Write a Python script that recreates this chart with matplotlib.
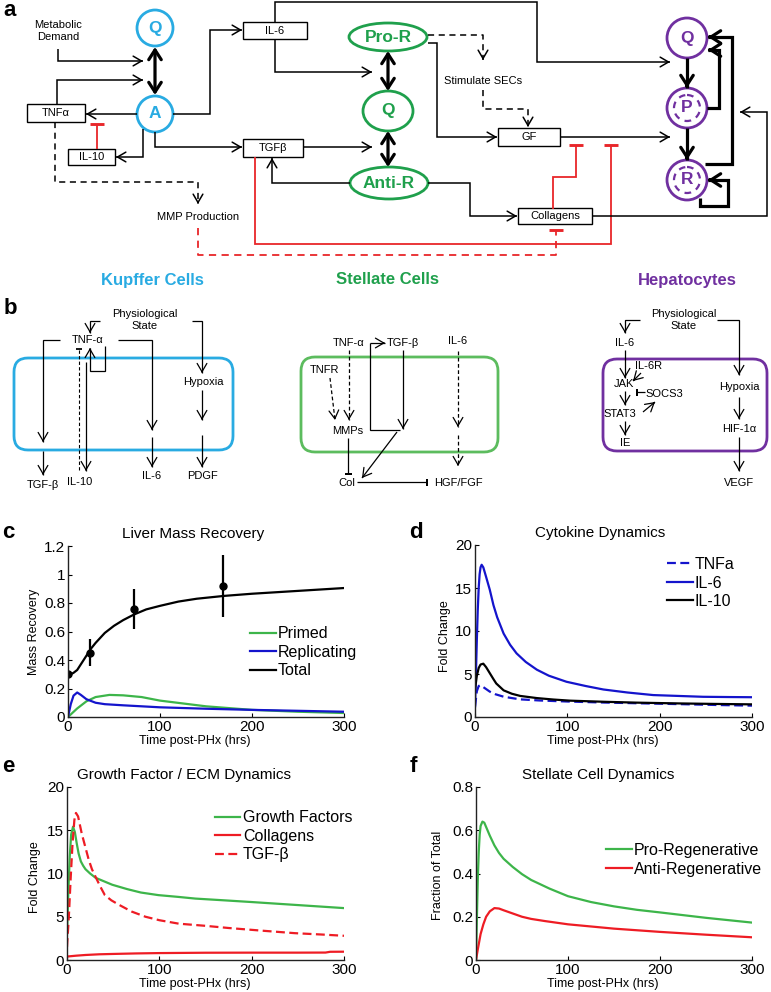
import numpy as np
import matplotlib
matplotlib.use("Agg")
import matplotlib.pyplot as plt
from matplotlib.patches import Circle, Ellipse, Rectangle, FancyBboxPatch

plt.rcParams['font.family'] = ['Liberation Sans', 'DejaVu Sans']

# ---- c: liver mass recovery ----
t_total = [0, 3, 6, 10, 15, 20, 25, 30, 40, 50, 60, 72, 85, 100, 120, 140, 170, 200, 250, 300]
mass_total = [0.30, 0.30, 0.31, 0.33, 0.38, 0.43, 0.48, 0.52, 0.59, 0.64, 0.68, 0.72, 0.755, 0.78,
              0.81, 0.83, 0.85, 0.865, 0.885, 0.905]
t_primed = [0, 5, 10, 20, 30, 45, 60, 80, 100, 125, 150, 200, 250, 300]
mass_primed = [0, 0.03, 0.06, 0.11, 0.14, 0.155, 0.152, 0.14, 0.115, 0.095, 0.075, 0.05, 0.037, 0.028]
t_repl = [0, 3, 6, 10, 14, 20, 30, 40, 60, 100, 150, 200, 300]
mass_repl = [0, 0.09, 0.15, 0.172, 0.155, 0.125, 0.1, 0.09, 0.082, 0.068, 0.058, 0.05, 0.037]
t_exp = [0, 24, 72, 168]
mass_exp = [0.30, 0.45, 0.755, 0.92]
mass_err = [0, 0.095, 0.14, 0.22]

# ---- d: cytokines ----
t_tnf = [0, 2, 4, 5.5, 8, 12, 16, 22, 31, 40, 49, 70, 100, 140, 175, 220, 260, 300]
tnf = [1.2, 3.0, 3.6, 3.7, 3.55, 3.25, 2.95, 2.65, 2.36, 2.2, 2.05, 1.92, 1.8, 1.68, 1.6, 1.5, 1.4, 1.32]
t_il6 = [0, 1, 2, 3, 4, 5, 6, 7.2, 9, 12, 16, 20, 24, 31, 38, 45, 55, 67, 80, 99, 120,
         139, 165, 193, 220, 247, 275, 300]
il6 = [1.2, 5, 9, 12.5, 15, 16.6, 17.4, 17.7, 17.4, 16.3, 14.8, 13.0, 11.6, 9.7, 8.4, 7.4, 6.4,
       5.5, 4.8, 4.1, 3.6, 3.2, 2.85, 2.55, 2.45, 2.35, 2.32, 2.3]
t_il10 = [0, 2, 4, 6, 9, 12, 16, 20, 23, 31, 40, 49, 67, 85, 103, 140, 175, 220, 260, 300]
il10 = [3.2, 4.8, 5.7, 6.1, 6.2, 5.8, 5.1, 4.4, 3.9, 3.1, 2.7, 2.45, 2.2, 2.03, 1.9, 1.77, 1.67,
        1.58, 1.52, 1.47]

# ---- e: growth factor / ECM ----
t_gf = [0, 1.5, 3, 4.5, 6.5, 8.5, 10.5, 12.6, 15, 17.5, 20, 25, 31, 40, 49, 65, 80, 99, 120,
        139, 170, 200, 250, 300]
gf = [3, 8, 12, 14.5, 15.4, 14.8, 13.5, 12.3, 11.4, 10.9, 10.5, 10.0, 9.5, 9.1, 8.7, 8.2, 7.8,
      7.5, 7.3, 7.1, 6.9, 6.7, 6.35, 6.0]
t_col = [0, 5, 10, 20, 35, 50, 75, 100, 150, 200, 250, 280, 285, 300]
col = [0.4, 0.45, 0.5, 0.58, 0.66, 0.7, 0.76, 0.8, 0.84, 0.85, 0.85, 0.86, 0.95, 0.96]
t_tgf = [0, 2, 4, 6, 8, 9.7, 12, 16, 20, 23.5, 27, 31, 36, 41, 48, 56, 70, 85, 100, 121, 150,
         175, 210, 247, 275, 300]
tgf = [1.5, 5, 9.5, 13.5, 16.2, 17.0, 16.6, 14.6, 13.0, 11.6, 10.5, 9.6, 8.5, 7.5, 6.9, 6.4,
       5.6, 5.0, 4.6, 4.2, 3.95, 3.7, 3.4, 3.1, 2.95, 2.8]

# ---- f: stellate cells ----
t_pro = [0, 1, 2, 3, 4, 5, 7, 9, 12, 15, 20, 25, 30, 40, 50, 60, 80, 100, 125, 150, 175, 200,
         250, 300]
pro = [0, 0.2, 0.38, 0.5, 0.58, 0.62, 0.64, 0.635, 0.605, 0.575, 0.53, 0.495, 0.468, 0.43,
       0.397, 0.37, 0.33, 0.295, 0.268, 0.248, 0.232, 0.22, 0.195, 0.173]
t_anti = [0, 2, 5, 8, 11, 15, 20, 25, 30, 40, 50, 60, 75, 100, 125, 150, 200, 250, 300]
anti = [0, 0.05, 0.12, 0.165, 0.2, 0.225, 0.24, 0.238, 0.23, 0.215, 0.2, 0.19, 0.18, 0.165,
        0.155, 0.145, 0.13, 0.117, 0.105]

KUP = '#29ABE2'
STE = '#1FA04C'
STE_B = '#5CBC5E'
HEP = '#7030A0'
RED = '#E8262A'
GREEN = '#3DB54A'
BLUE = '#1414CC'
LRED = '#EE1C24'

fig = plt.figure(figsize=(7.71, 9.92), dpi=100)
ov = fig.add_axes([0, 0, 1, 1])
ov.set_xlim(0, 771)
ov.set_ylim(992, 0)
ov.axis('off')


def line(pts, color='k', lw=1.1, ls='-'):
    xs, ys = zip(*pts)
    ov.plot(xs, ys, color=color, lw=lw, ls=ls, solid_capstyle='butt',
            dash_capstyle='butt', solid_joinstyle='miter')


def arrow(pts, color='k', lw=1.1, ls='-', hl=0.6, hw=0.35):
    line(pts, color, lw, ls)
    (x0, y0), (x1, y1) = pts[-2], pts[-1]
    d = np.hypot(x1 - x0, y1 - y0)
    ux, uy = (x1 - x0) / d, (y1 - y0) / d
    ov.annotate('', xy=(x1, y1), xytext=(x1 - ux * 2, y1 - uy * 2),
                arrowprops=dict(arrowstyle=f'->,head_length={hl},head_width={hw}',
                                color=color, lw=lw, shrinkA=0, shrinkB=0))


def tbar(pts, color='k', lw=1.1, ls='-', half=7):
    line(pts, color, lw, ls)
    (x0, y0), (x1, y1) = pts[-2], pts[-1]
    d = np.hypot(x1 - x0, y1 - y0)
    px, py = -(y1 - y0) / d, (x1 - x0) / d
    ov.plot([x1 - px * half, x1 + px * half], [y1 - py * half, y1 + py * half],
            color=color, lw=lw * 1.6, solid_capstyle='butt')


def dbl(p0, p1):
    ov.annotate('', xy=p1, xytext=p0,
                arrowprops=dict(arrowstyle='<->,head_length=0.7,head_width=0.45',
                                color='k', lw=2.3, shrinkA=0, shrinkB=0))


def box(x0, y0, x1, y1, label, fs=8):
    ov.add_patch(Rectangle((x0, y0), x1 - x0, y1 - y0, fill=False, ec='k', lw=1.0))
    ov.text((x0 + x1) / 2, (y0 + y1) / 2, label, ha='center', va='center', fontsize=fs)


def txt(x, y, s, fs=8, **kw):
    ov.text(x, y, s, ha='center', va='center', fontsize=fs, **kw)


# panel letters
for lx, ly, s in [(10, 11, 'a'), (10, 309, 'b'), (8, 532, 'c'), (416, 532, 'd'),
                  (8, 767, 'e'), (413, 767, 'f')]:
    txt(lx, ly, s, fs=16, fontweight='bold')

# ================= panel a =================
# Kupffer cells
ov.add_patch(Circle((155, 28), 18, fill=False, ec=KUP, lw=2))
ov.add_patch(Circle((155, 114), 18, fill=False, ec=KUP, lw=2))
txt(155, 28, 'Q', fs=12.5, color=KUP, fontweight='bold')
txt(155, 114, 'A', fs=12.5, color=KUP, fontweight='bold')
dbl((155, 47), (155, 95))
ov.text(58, 31, 'Metabolic\nDemand', ha='center', va='center', fontsize=8, linespacing=1.25)
arrow([(58, 49), (58, 61), (143, 61)])
arrow([(57, 104), (57, 80), (143, 80)])
box(27, 104, 85, 122, 'TNFα')
arrow([(137, 114), (86, 114)])
box(68, 149, 115, 165, 'IL-10')
arrow([(143, 129), (143, 157), (116, 157)])
tbar([(97, 149), (97, 124)], color=RED, lw=1.3)
arrow([(55, 122), (55, 182), (198, 182), (198, 204)], ls=(0, (4, 3)))
txt(198, 217, 'MMP Production')
tbar([(198, 228), (198, 255), (556, 255), (556, 230)], color=RED, lw=1.3, ls=(0, (4, 3)))
box(243, 22, 307, 39, 'IL-6')
arrow([(173, 114), (210, 114), (210, 30), (242, 30)])
arrow([(275, 22), (275, 2), (537, 2), (537, 62), (670, 62)])
arrow([(275, 39), (275, 72), (372, 72)])
box(243, 139, 303, 157, 'TGFβ')
arrow([(155, 132), (155, 147), (242, 147)])
arrow([(303, 147), (372, 147)])
arrow([(350, 183), (272, 183), (272, 158)])
tbar([(255, 157), (255, 244), (611, 244), (611, 145)], color=RED, lw=1.3)
tbar([(553, 209), (553, 177), (576, 177), (576, 145)], color=RED, lw=1.3)

# Stellate cells
for (cx, cy, w, h, s) in [(388, 37, 78, 28, 'Pro-R'), (388, 111, 50, 40, 'Q'),
                          (389, 183, 78, 32, 'Anti-R')]:
    ov.add_patch(Ellipse((cx, cy), w, h, fill=False, ec=STE, lw=2))
    txt(cx, cy, s, fs=12.5, color=STE, fontweight='bold')
dbl((388, 51), (388, 91))
dbl((388, 131), (388, 167))
arrow([(428, 35), (483, 35), (483, 60)], ls=(0, (4, 3)))
txt(483, 81, 'Stimulate SECs')
arrow([(483, 90), (483, 109), (528, 109), (528, 127)], ls=(0, (4, 3)))
arrow([(428, 43), (437, 43), (437, 137), (497, 137)])
box(498, 128, 560, 146, 'GF')
arrow([(560, 137), (670, 137)])
arrow([(428, 183), (470, 183), (470, 216), (517, 216)])
box(518, 208, 592, 224, 'Collagens')
arrow([(592, 216), (767, 216), (767, 112), (740, 112)])

# Hepatocytes
for cy, s in [(38, 'Q'), (108, 'P'), (180, 'R')]:
    ov.add_patch(Circle((687, cy), 20, fill=False, ec=HEP, lw=2))
    if s != 'Q':
        ov.add_patch(Circle((687, cy), 13, fill=False, ec=HEP, lw=1.6, ls=(0, (3, 2.5))))
    txt(687, cy, s, fs=12.5, color=HEP, fontweight='bold')
arrow([(687, 58), (687, 88)], lw=2.3, hl=0.7, hw=0.45)
arrow([(687, 128), (687, 160)], lw=2.3, hl=0.7, hw=0.45)
arrow([(707, 108), (719, 108), (719, 50), (708, 50)], lw=2.3, hl=0.7, hw=0.45)
arrow([(705, 164), (732, 164), (732, 37), (708, 37)], lw=2.3, hl=0.7, hw=0.45)
arrow([(700, 198), (700, 206), (728, 206), (728, 180), (708, 180)], lw=2.3, hl=0.7, hw=0.45)

txt(152, 280, 'Kupffer Cells', fs=12, color=KUP, fontweight='bold')
txt(387, 280, 'Stellate Cells', fs=12, color=STE, fontweight='bold')
txt(687, 280, 'Hepatocytes', fs=12, color=HEP, fontweight='bold')

# ================= panel b =================
# Kupffer
ov.add_patch(FancyBboxPatch((14, 358), 219, 92, boxstyle='round,pad=0,rounding_size=14',
                            fill=False, ec=KUP, lw=2))
ov.text(145, 320, 'Physiological\nState', ha='center', va='center', fontsize=8, linespacing=1.2)
txt(88, 340, 'TNF-α')
arrow([(100, 321), (90, 321), (90, 333)], lw=0.9)
arrow([(192, 321), (202, 321), (202, 373)], lw=0.9)
txt(203, 382, 'Hypoxia')
arrow([(202, 390), (202, 420)], lw=0.9)
arrow([(202, 435), (202, 467)], lw=0.9)
txt(203, 476, 'PDGF')
arrow([(60, 340), (43, 340), (43, 442)], lw=0.9)
arrow([(43, 451), (43, 475)], lw=0.9)
txt(43, 485, 'TGF-β')
arrow([(118, 340), (152, 340), (152, 430)], lw=0.9)
arrow([(152, 437), (152, 467)], lw=0.9)
txt(152, 476, 'IL-6')
arrow([(105, 346), (105, 371), (90, 371), (90, 348)], lw=0.9)
arrow([(86, 362), (86, 471)], lw=0.9)
tbar([(79, 470), (79, 349)], lw=0.8, ls=(0, (3, 2)), half=3)
txt(80, 482, 'IL-10')

# Stellate
ov.add_patch(FancyBboxPatch((301, 357), 197, 95, boxstyle='round,pad=0,rounding_size=14',
                            fill=False, ec=STE_B, lw=2))
txt(349, 343, 'TNF-α')
txt(403, 343, 'TGF-β')
txt(458, 341, 'IL-6')
line([(400, 430), (370, 430), (370, 343)], lw=0.9)
arrow([(370, 343), (385, 343)], lw=0.9)
arrow([(403, 350), (403, 429)], lw=0.9)
arrow([(397, 432), (362, 478)], lw=0.9)
arrow([(349, 350), (349, 420)], lw=0.9, ls=(0, (3, 2)))
txt(325, 370, 'TNFR')
arrow([(330, 378), (335, 420)], lw=0.9, ls=(0, (3, 2)))
txt(348, 431, 'MMPs')
tbar([(348, 438), (348, 474)], lw=0.9, half=3.5)
txt(347, 483, 'Col')
tbar([(357, 482), (427, 482)], lw=0.9, half=3.5)
txt(458, 483, 'HGF/FGF')
arrow([(458, 351), (458, 427)], lw=0.9, ls=(0, (3, 2)))
arrow([(458, 435), (458, 466)], lw=0.9, ls=(0, (3, 2)))

# Hepatocytes
ov.add_patch(FancyBboxPatch((603, 359), 164, 92, boxstyle='round,pad=0,rounding_size=14',
                            fill=False, ec=HEP, lw=2))
ov.text(684, 320, 'Physiological\nState', ha='center', va='center', fontsize=8, linespacing=1.2)
arrow([(640, 320), (625, 320), (625, 333)], lw=0.9)
txt(625, 343, 'IL-6')
arrow([(625, 350), (625, 378)], lw=0.9)
txt(649, 366, 'IL-6R')
arrow([(641, 373), (633, 381)], lw=0.9)
txt(624, 384, 'JAK')
tbar([(645, 392), (637, 392)], lw=0.9, half=3.5)
txt(664, 394, 'SOCS3')
arrow([(625, 391), (625, 405)], lw=0.9)
txt(620, 414, 'STAT3')
arrow([(643, 412), (655, 402)], lw=0.9)
arrow([(625, 421), (625, 435)], lw=0.9)
txt(625, 443, 'IE')
arrow([(717, 320), (739, 320), (739, 375)], lw=0.9)
txt(739, 387, 'Hypoxia')
arrow([(739, 397), (739, 419)], lw=0.9)
txt(739, 429, 'HIF-1α')
arrow([(739, 437), (739, 471)], lw=0.9)
txt(739, 483, 'VEGF')

# ================= plots =================
W, H = 771.0, 992.0


def make_ax(left, right, top, bottom):
    return fig.add_axes([left / W, (H - bottom) / H, (right - left) / W, (bottom - top) / H])


def style(ax, ylim, yticks, ylabels, title, tx, ylab, ylx, yly):
    ax.set_xlim(0, 300)
    ax.set_ylim(*ylim)
    for s in ['top', 'right']:
        ax.spines[s].set_visible(False)
    for s in ['left', 'bottom']:
        ax.spines[s].set_linewidth(1.0)
        ax.spines[s].set_color('#222222')
    ax.set_xticks([0, 100, 200, 300])
    ax.set_yticks(yticks)
    ax.set_yticklabels(ylabels)
    ax.tick_params(direction='in', length=3, labelsize=11, pad=2)
    ax.set_title(title, fontsize=11, x=tx, pad=6)
    ax.set_xlabel('Time post-PHx (hrs)', fontsize=9)
    ax.xaxis.set_label_coords(0.46, -0.105)
    ax.set_ylabel(ylab, fontsize=9)
    ax.yaxis.set_label_coords(ylx, yly)
    ax.patch.set_alpha(0)


def leg(ax, x, y):
    ax.legend(loc='upper left', bbox_to_anchor=(x, y), frameon=False, fontsize=11.5,
              handlelength=1.6, handletextpad=0.15, labelspacing=0.22, borderpad=0,
              borderaxespad=0)


# c
axc = make_ax(68, 344, 546, 717)
axc.plot(t_primed, mass_primed, color=GREEN, lw=1.6, label='Primed')
axc.plot(t_repl, mass_repl, color=BLUE, lw=1.6, label='Replicating')
axc.plot(t_total, mass_total, color='k', lw=1.6, label='Total')
axc.errorbar(t_exp, mass_exp, yerr=mass_err, fmt='o', color='k', ms=5, lw=1.6, capsize=0)
style(axc, (0, 1.2), [0, 0.2, 0.4, 0.6, 0.8, 1.0, 1.2],
      ['0', '0.2', '0.4', '0.6', '0.8', '1', '1.2'],
      'Liver Mass Recovery', 0.453, 'Mass Recovery', -0.10, 0.5)
leg(axc, 0.66, 0.53)

# d
axd = make_ax(475, 752, 545, 717)
axd.plot(t_tnf, tnf, color=BLUE, lw=1.6, ls=(0, (4, 2)), label='TNFa')
axd.plot(t_il6, il6, color=BLUE, lw=1.6, label='IL-6')
axd.plot(t_il10, il10, color='k', lw=1.6, label='IL-10')
style(axd, (0, 20), [0, 5, 10, 15, 20], ['0', '5', '10', '15', '20'],
      'Cytokine Dynamics', 0.451, 'Fold Change', -0.087, 0.47)
leg(axd, 0.693, 0.93)

# e
axe = make_ax(67, 344, 787, 960)
axe.plot(t_gf, gf, color=GREEN, lw=1.6, label='Growth Factors')
axe.plot(t_col, col, color=LRED, lw=1.6, label='Collagens')
axe.plot(t_tgf, tgf, color=LRED, lw=1.6, ls=(0, (4, 2)), label='TGF-β')
style(axe, (0, 20), [0, 5, 10, 15, 20], ['0', '5', '10', '15', '20'],
      'Growth Factor / ECM Dynamics', 0.422, 'Fold Change', -0.094, 0.48)
leg(axe, 0.534, 0.866)

# f
axf = make_ax(476, 752, 787, 960)
axf.plot(t_pro, pro, color=GREEN, lw=1.6, label='Pro-Regenerative')
axf.plot(t_anti, anti, color=LRED, lw=1.6, label='Anti-Regenerative')
style(axf, (0, 0.8), [0, 0.2, 0.4, 0.6, 0.8], ['0', '0.2', '0.4', '0.6', '0.8'],
      'Stellate Cell Dynamics', 0.442, 'Fraction of Total', -0.116, 0.49)
leg(axf, 0.471, 0.676)

fig.savefig('out.png', dpi=100)
